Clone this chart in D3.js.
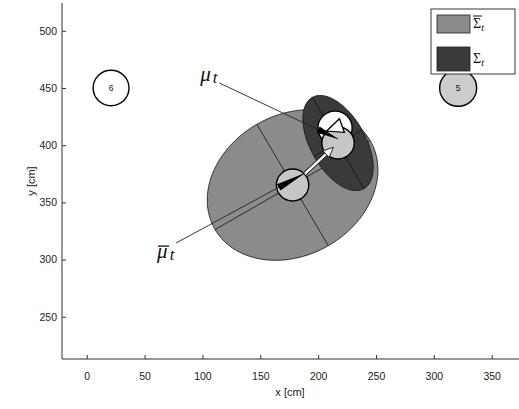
<!DOCTYPE html>
<html>
<head>
<meta charset="utf-8">
<script src="https://d3js.org/d3.v7.min.js"></script>
<style>
  body { margin: 0; background: #fff; }
  svg text { font-family: "Liberation Sans", Arial, sans-serif; }
  .math { font-family: "Liberation Serif", "DejaVu Serif", serif; font-style: italic; }
</style>
</head>
<body>
<svg id="chart" width="519" height="409"></svg>
<script>

// tick labels
const xTicks = [0, 50, 100, 150, 200, 250, 300, 350];
const yTicks = [250, 300, 350, 400, 450, 500];

// landmarks (cm)
const landmarkIds = ["6", "5"];
const landmarkX = [21, 321];
const landmarkY = [450, 450];
const landmarkR = [15.5, 16];
const landmarkSeen = [false, true];

// covariance ellipses: predicted (Sigma bar) and corrected (Sigma)
const ellCx = [177.9, 217.2];
const ellCy = [365.2, 401.9];
const ellA = [77.5, 45.7];
const ellB = [61.4, 23.8];
const ellAngle = [30.2, -61];

// robot poses
const muBar = [177.9, 365.2];
const mu = [217.2, 401.9];
const zPose = [214.6, 415.0];
const zHeading = 200;
const robotR = 14;

// annotations: label anchor, leader start, leader tip
const annText = ["mu", "mubar"];
const annX = [98.1, 60.8];
const annY = [456.1, 301.3];
const leadFromX = [114.5, 77.2];
const leadFromY = [454.4, 314.5];
const leadToX = [217.2, 188.7];
const leadToY = [405.4, 375.7];

const svg = d3.select("#chart");
const x = d3.scaleLinear().domain([-21.4, 373.6]).range([62, 519]);
const y = d3.scaleLinear().domain([213.1, 524.3]).range([359, 3]);
const sx = d => x(d) - x(0);   // cm -> px length

// axes, matlab style with ticks inside
const gx = svg.append("g").attr("transform", "translate(0,359)")
  .call(d3.axisBottom(x).tickValues(xTicks).tickSize(-4).tickPadding(14));
const gy = svg.append("g").attr("transform", "translate(62,0)")
  .call(d3.axisLeft(y).tickValues(yTicks).tickSize(-4).tickPadding(5));
[gx, gy].forEach(g => {
  g.select(".domain").remove();
  g.selectAll(".tick line").attr("stroke", "#333");
  g.selectAll(".tick text").attr("fill", "#222").style("font-size", "10.5px").style("font-family", "Liberation Sans, Arial, sans-serif");
});
svg.append("line").attr("x1", 62).attr("x2", 519).attr("y1", 359).attr("y2", 359).attr("stroke", "#333");
svg.append("line").attr("x1", 62).attr("x2", 62).attr("y1", 3).attr("y2", 359).attr("stroke", "#333");

svg.append("text").attr("x", 290).attr("y", 396).attr("text-anchor", "middle")
  .style("font-size", "11px").attr("fill", "#222").text("x [cm]");
svg.append("text").attr("transform", "translate(35,181) rotate(-90)").attr("text-anchor", "middle")
  .style("font-size", "11px").attr("fill", "#222").text("y [cm]");

// ellipses
function ellPoint(i, t) {
  const p = ellAngle[i] * Math.PI / 180, tr = t * Math.PI / 180;
  const ex = ellA[i] * Math.cos(tr), ey = ellB[i] * Math.sin(tr);
  return [x(ellCx[i] + ex * Math.cos(p) - ey * Math.sin(p)),
          y(ellCy[i] + ex * Math.sin(p) + ey * Math.cos(p))];
}
const ellFill = ["#8b8b8b", "#3a3a3a"];
ellCx.forEach((c, i) => {
  const pts = d3.range(0, 360, 3).map(t => ellPoint(i, t));
  svg.append("path").attr("d", d3.line()(pts) + "Z")
    .attr("fill", ellFill[i]).attr("stroke", "#111").attr("stroke-width", 0.8);
  [[0, 180], [90, 270]].forEach(([a, b]) => {
    const p1 = ellPoint(i, a), p2 = ellPoint(i, b);
    svg.append("line").attr("x1", p1[0]).attr("y1", p1[1]).attr("x2", p2[0]).attr("y2", p2[1])
      .attr("stroke", "#111").attr("stroke-width", 0.8);
  });
});

function circle(p, r, fill) {
  svg.append("ellipse").attr("cx", x(p[0])).attr("cy", y(p[1]))
    .attr("rx", sx(r)).attr("ry", y(0) - y(r))
    .attr("fill", fill).attr("stroke", "#000").attr("stroke-width", 1.4);
}

// robot at mu bar, observed pose, robot at mu
circle(muBar, robotR, "#c6c6c6");
circle(zPose, robotR + 0.8, "#fff");
circle(mu, robotR, "#c6c6c6");

// heading triangle of observed pose
{
  const a = zHeading * Math.PI / 180;
  const cx = x(zPose[0]), cy = y(zPose[1]), r = sx(robotR);
  const dx = Math.cos(a), dy = -Math.sin(a);
  const tri = [[cx + dx * r * 0.55, cy + dy * r * 0.55],
               [cx - dx * r * 0.45 - dy * r * 0.45, cy - dy * r * 0.45 + dx * r * 0.45],
               [cx - dx * r * 0.45 + dy * r * 0.45, cy - dy * r * 0.45 - dx * r * 0.45]];
  svg.append("path").attr("d", d3.line()(tri) + "Z")
    .attr("fill", "#fff").attr("stroke", "#000").attr("stroke-width", 1.3);
}

function head(x1, y1, x2, y2, len, w) {
  const L = Math.hypot(x2 - x1, y2 - y1), ux = (x2 - x1) / L, uy = (y2 - y1) / L;
  const bx = x2 - ux * len, by = y2 - uy * len;
  return [[x2, y2], [bx - uy * w / 2, by + ux * w / 2], [bx + uy * w / 2, by - ux * w / 2]];
}

// white arrow from mu bar to mu
{
  const L = Math.hypot(mu[0] - muBar[0], mu[1] - muBar[1]);
  const ux = (mu[0] - muBar[0]) / L, uy = (mu[1] - muBar[1]) / L;
  const x1 = x(muBar[0] + ux * robotR), y1 = y(muBar[1] + uy * robotR);
  const x2 = x(mu[0] - ux * 5.5), y2 = y(mu[1] - uy * 5.5);
  const h = head(x1, y1, x2, y2, 10, 9);
  const L2 = Math.hypot(x2 - x1, y2 - y1);
  const ex = x2 - (x2 - x1) / L2 * 9, ey = y2 - (y2 - y1) / L2 * 9;
  svg.append("line").attr("x1", x1).attr("y1", y1).attr("x2", ex).attr("y2", ey)
    .attr("stroke", "#222").attr("stroke-width", 4.2);
  svg.append("line").attr("x1", x1).attr("y1", y1).attr("x2", ex).attr("y2", ey)
    .attr("stroke", "#fff").attr("stroke-width", 2.2);
  svg.append("path").attr("d", d3.line()(h) + "Z")
    .attr("fill", "#fff").attr("stroke", "#222").attr("stroke-width", 1);
}

// leaders with black arrow heads
const headLen = [22, 30];
annText.forEach((t, i) => {
  const x1 = x(leadFromX[i]), y1 = y(leadFromY[i]), x2 = x(leadToX[i]), y2 = y(leadToY[i]);
  svg.append("line").attr("x1", x1).attr("y1", y1).attr("x2", x2).attr("y2", y2)
    .attr("stroke", "#222").attr("stroke-width", 0.9);
  svg.append("path").attr("d", d3.line()(head(x1, y1, x2, y2, headLen[i], 7)) + "Z")
    .attr("fill", "#000");
});

// labels
annText.forEach((t, i) => {
  const tx = svg.append("text").attr("class", "math").attr("x", x(annX[i])).attr("y", y(annY[i]))
    .style("font-size", "21px").attr("fill", "#111");
  tx.append("tspan").text("μ");
  tx.append("tspan").attr("dx", 2).attr("dy", 2).style("font-size", "17px").text("t");
  if (t === "mubar") {
    svg.append("line").attr("x1", x(annX[i]) + 1).attr("x2", x(annX[i]) + 12)
      .attr("y1", y(annY[i]) - 12).attr("y2", y(annY[i]) - 12)
      .attr("stroke", "#111").attr("stroke-width", 1.3);
  }
});

// landmarks
landmarkIds.forEach((id, i) => {
  circle([landmarkX[i], landmarkY[i]], landmarkR[i], landmarkSeen[i] ? "#cdcdcd" : "#fff");
  svg.append("text").attr("x", x(landmarkX[i])).attr("y", y(landmarkY[i]) + 3)
    .attr("text-anchor", "middle").style("font-size", "8.5px").attr("fill", "#111").text(id);
});

// legend
const legendItems = ["bar", "plain"];
const lg = svg.append("g").attr("transform", "translate(431,9)");
lg.append("rect").attr("width", 84).attr("height", 65).attr("fill", "#fff")
  .attr("stroke", "#222").attr("stroke-width", 0.9);
legendItems.forEach((k, i) => {
  const top = i === 0 ? 6 : 38;
  const h = i === 0 ? 18 : 24;
  lg.append("rect").attr("x", 6).attr("y", top).attr("width", 33).attr("height", h)
    .attr("fill", ellFill[i]).attr("stroke", "#222").attr("stroke-width", 0.8);
  const ty = top + h / 2 + 4;
  const t = lg.append("text").attr("class", "math").attr("x", 42).attr("y", ty)
    .style("font-size", "14px").style("font-style", "normal").attr("fill", "#111");
  t.append("tspan").text("Σ");
  t.append("tspan").attr("dy", 3).style("font-size", "10px").style("font-style", "italic").text("t");
  if (k === "bar") {
    lg.append("line").attr("x1", 42).attr("x2", 51).attr("y1", ty - 12).attr("y2", ty - 12)
      .attr("stroke", "#111").attr("stroke-width", 1);
  }
});
</script>
</body>
</html>
